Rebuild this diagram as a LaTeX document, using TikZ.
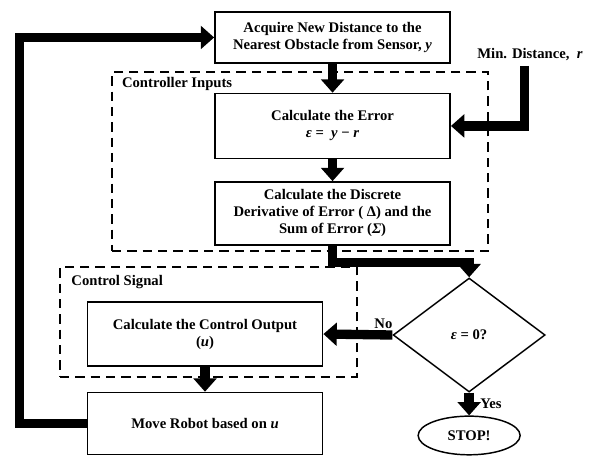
\documentclass[tikz,border=0pt]{standalone}
\usepackage{fontspec}
\setmainfont{Liberation Serif}
\usetikzlibrary{arrows.meta,positioning,shapes.geometric,calc}

\begin{document}
\begin{tikzpicture}[
font=\fontsize{11}{12.75}\selectfont\bfseries,
proc/.style={draw,line width=1.1pt,align=center,minimum width=176.5pt},
group/.style={draw,dash pattern=on 7pt off 4.5pt,line width=1.3pt,inner sep=0},
flow/.style={-{Triangle[length=10pt,width=17pt]},line width=7pt},
lbl/.style={inner sep=1pt}]
\useasboundingbox (0,0) rectangle (449.25pt,-341.25pt);
% dashed groups
\node[group,minimum width=282pt,minimum height=134.25pt](inputs) at (225pt,-121.1pt){};
\node[anchor=west,lbl](inputslbl) at ($(inputs.north west)+(7pt,-9.75pt)$){Controller Inputs};
\node[group,minimum width=222.75pt,minimum height=82.5pt](signal) at (156.4pt,-241.5pt){};
\node[anchor=west,lbl](signallbl) at ($(signal.north west)+(8pt,-12pt)$){Control Signal};
% steps
\node[proc,minimum height=38.25pt](acq) at (249.4pt,-28.1pt){Acquire New Distance to the\\Nearest Obstacle from Sensor, \textit{y}};
\node[proc,minimum height=48.75pt,below=21.75pt of acq](err){Calculate the Error\\\textit{ε} =\ \ \textit{y} − \textit{r}};
\node[proc,minimum height=47.25pt,below=16.5pt of err](disc){Calculate the Discrete\\Derivative of Error ( Δ) and the\\Sum of Error (\textit{Σ})};
\node[proc,minimum height=48pt](ctl) at (153.75pt,-250.5pt){Calculate the Control Output\\(\textit{u})};
\node[proc,minimum height=46.5pt,below=18.75pt of ctl](move){Move Robot based on \textit{u}};
\node[draw,diamond,line width=1.1pt,minimum width=114pt,minimum height=85.5pt,inner sep=0,right=51.75pt of ctl,yshift=-.75pt](dec){\textit{ε} = 0?};
\node[draw,ellipse,line width=1.1pt,minimum width=76.5pt,minimum height=29pt,below=17pt of dec](stop){STOP!};
\node(mind) at (397.5pt,-41.25pt){Min. Distance,\ \ \textit{r}};
% connectors
\draw[flow](acq)--(err);
\draw[flow](err)--(disc);
\draw[flow](disc.south)--++(0,-12.4pt)-|(dec.north);
\draw[flow](dec.west)--node[above,pos=.13,lbl]{No}(ctl.east);
\draw[flow](dec.south)--node[right,lbl,xshift=4pt]{Yes}(stop.north);
\draw[flow](ctl)--(move);
\draw[flow](move.west)--++(-50.25pt,0)|-(acq.west);
\draw[flow]([xshift=-4pt]mind.south)|-(err.east);
\end{tikzpicture}
\end{document}
